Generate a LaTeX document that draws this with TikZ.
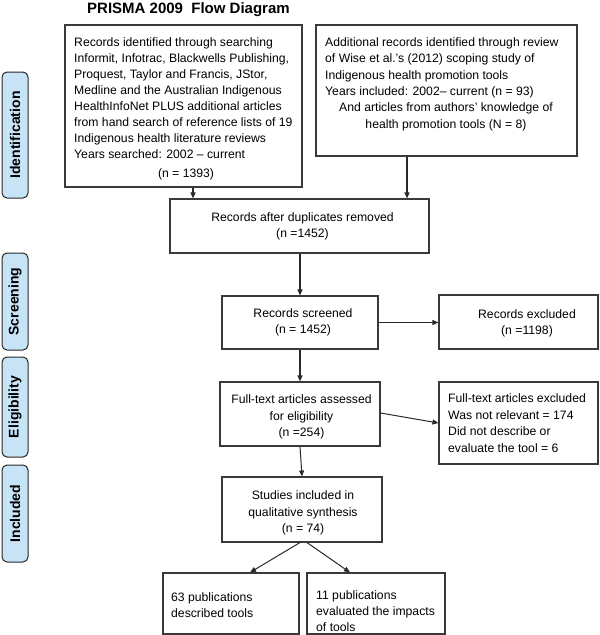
\documentclass[tikz,border=0pt]{standalone}
\usepackage{fontspec}
\setmainfont{Liberation Sans}
\usetikzlibrary{arrows.meta}
\definecolor{lblue}{HTML}{C7E4F7}
\definecolor{edgec}{HTML}{3A3A3A}
\definecolor{arrc}{HTML}{2A2A2A}
\begin{document}
\begin{tikzpicture}[x=1pt,y=-1pt,
  box/.style={draw=edgec, line width=1.1pt, rectangle, inner sep=0pt},
  lbl/.style={draw=black!85, fill=lblue, rounded corners=5pt, line width=1pt,
    minimum height=26pt, inner sep=0pt, rotate=90,
    font=\fontsize{14}{16}\selectfont\bfseries},
  txt/.style={font=\fontsize{12.2}{16}\selectfont, inner sep=0pt},
  arr/.style={draw=arrc, line width=1.2pt, -{Triangle[length=6pt,width=5pt]}}]
\useasboundingbox (0,0) rectangle (600,635);

% title
\node[font=\fontsize{15}{18}\selectfont\bfseries, anchor=base west, inner sep=0pt] (title) at (87,13.3) {PRISMA 2009\ \ Flow Diagram};

% side labels
\node[lbl, minimum width=126pt] (sIdent) at (15,135) {Identification};
\node[lbl, minimum width=97pt] (sScreen) at (15,301.5) {Screening};
\node[lbl, minimum width=100pt] (sElig) at (15,407) {Eligibility};
\node[lbl, minimum width=97pt] (sIncl) at (15,513.5) {Included};

% boxes
\node[box, minimum width=237pt, minimum height=162pt] (rec) at (183.5,106) {};
\node[box, minimum width=261pt, minimum height=131pt] (add) at (446.5,90.5) {};
\node[box, minimum width=259pt, minimum height=54pt] (dup) at (299.5,226) {};
\node[box, minimum width=156pt, minimum height=53pt] (scr) at (300,322.5) {};
\node[box, minimum width=159pt, minimum height=54pt] (exc) at (518.5,322) {};
\node[box, minimum width=160pt, minimum height=64pt] (ft) at (300,414) {};
\node[box, minimum width=159pt, minimum height=82pt] (fte) at (518.5,423) {};
\node[box, minimum width=160pt, minimum height=65pt] (stu) at (302,509.5) {};
\node[box, minimum width=136pt, minimum height=61pt] (p63) at (231,603.5) {};
\node[box, minimum width=138pt, minimum height=61pt] (p11) at (376,603.5) {};

% texts (base anchor = baseline of the last line)
\node[txt, align=left, anchor=base west] (recT) at (74,158.5) {Records identified through searching\\Informit, Infotrac, Blackwells Publishing,\\Proquest, Taylor and Francis, JStor,\\Medline and the Australian Indigenous\\HealthInfoNet PLUS additional articles\\from hand search of reference lists of 19\\Indigenous health literature reviews\\Years searched: 2002 – current};
\node[txt, anchor=base] (recN) at (186,177.8) {(n = 1393)};

\node[txt, align=left, anchor=base west, font=\fontsize{12.2}{16.4}\selectfont] (addT) at (325,95.5) {Additional records identified through review\\of Wise et al.’s (2012) scoping study of\\Indigenous health promotion tools\\Years included: 2002– current (n = 93)};
\node[txt, align=center, anchor=base, font=\fontsize{12.2}{16.6}\selectfont] (addN) at (446,128.5) {And articles from authors’ knowledge of\\health promotion tools (N = 8)};

\node[txt, align=center, anchor=base] (dupT) at (302.5,237.5) {Records after duplicates removed\\(n =1452)};
\node[txt, align=center, anchor=base] (scrT) at (303,333.7) {Records screened\\(n = 1452)};
\node[txt, align=center, anchor=base] (excT) at (527,334.5) {Records excluded\\(n =1198)};
\node[txt, align=center, anchor=base, font=\fontsize{12.2}{16.5}\selectfont] (ftT) at (301.5,436.5) {Full-text articles assessed\\for eligibility\\(n =254)};
\node[txt, align=left, anchor=base west, font=\fontsize{12.2}{16.7}\selectfont] (fteT) at (448,452.5) {Full-text articles excluded\\Was not relevant = 174\\Did not describe or\\evaluate the tool = 6};
\node[txt, align=center, anchor=base, font=\fontsize{12.2}{16.5}\selectfont] (stuT) at (303,532.5) {Studies included in\\qualitative synthesis\\(n = 74)};
\node[txt, align=left, anchor=base west] (p63T) at (171,617) {63 publications\\described tools};
\node[txt, align=left, anchor=base west] (p11T) at (316,631.5) {11 publications\\evaluated the impacts\\of tools};

% connectors
\draw[arr] ([xshift=9.5pt]rec.south) -- ([xshift=9.5pt]rec.south |- dup.north);
\draw[arr] ([xshift=-39.5pt]add.south) -- ([xshift=-39.5pt]add.south |- dup.north);
\draw[arr] ([xshift=0.5pt]dup.south) -- (scr.north);
\draw[arr] (scr.east) -- (scr.east -| exc.west);
\draw[arr] (scr.south) -- (ft.north);
\draw[arr, line width=1pt] ([yshift=1pt]ft.east) -- (fte.west);
\draw[arr, line width=1pt] (ft.south) -- (stu.north);
\draw[arr, line width=1pt] ([xshift=-2pt]stu.south) -- ([xshift=19pt]p63.north);
\draw[arr, line width=1pt] ([xshift=5pt]stu.south) -- ([xshift=-26pt]p11.north);
\end{tikzpicture}
\end{document}
